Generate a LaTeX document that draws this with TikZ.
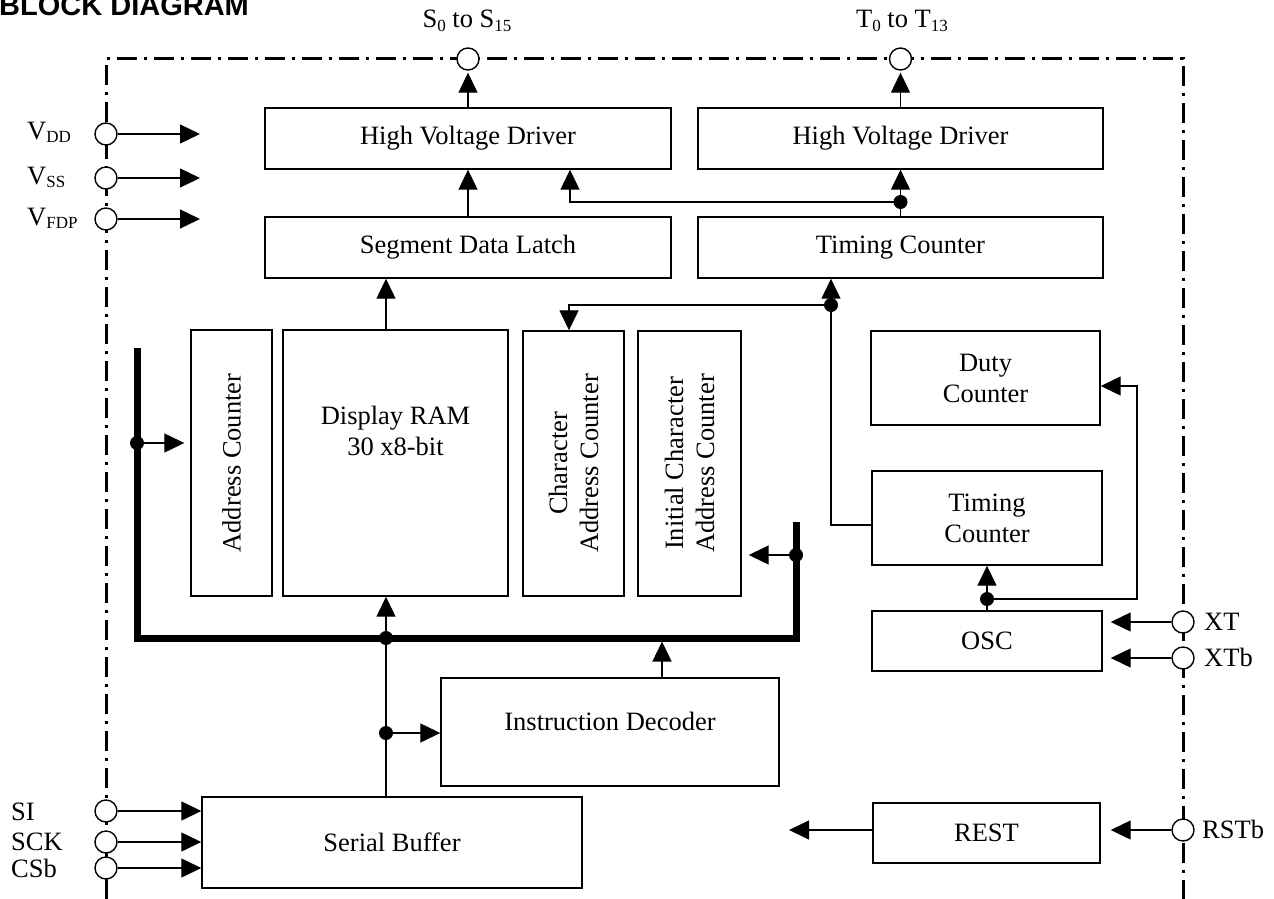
\documentclass[tikz,border=0pt]{standalone}
\usepackage{fontspec}
\setmainfont{Liberation Serif}
\newfontfamily\titlefont{Liberation Sans}
\usetikzlibrary{arrows.meta,calc}
\newcommand\lowsub[1]{\raisebox{-3.5pt}{\fontsize{17}{17}\selectfont #1}}
\begin{document}
\begin{tikzpicture}[x=1pt,y=-1pt,font=\fontsize{26.5}{31}\selectfont,
  box/.style={draw,line width=1.4pt,inner sep=0pt,align=center},
  wire/.style={line width=1.3pt},
  arr/.style={wire,-{Triangle[length=20pt,width=19pt]}},
  bus/.style={line width=7pt},
  dot/.style={circle,fill,inner sep=0pt,minimum size=14pt},
  pinc/.style={circle,draw,fill=white,line width=1.4pt,inner sep=0pt,minimum size=22pt},
  border/.style={line width=3pt,dash pattern=on 20pt off 7pt on 3pt off 7pt},
  lbl/.style={inner sep=0pt}]
\useasboundingbox (0,0) rectangle (1274,899);
\node[anchor=base west,inner sep=0pt,font=\titlefont\bfseries\fontsize{29}{30}\selectfont] (title) at (-1,16) {BLOCK DIAGRAM};
% border
\draw[border] (106,899) -- (106,59) -- (1183,59) -- (1183,899);
% boxes
\node[box,minimum width=406,minimum height=61] (hvdL) at (468,138.5) {High Voltage Driver};
\node[box,minimum width=405,minimum height=61] (hvdR) at (900.5,138.5) {High Voltage Driver};
\node[box,minimum width=406,minimum height=61] (sdl) at (468,247.5) {Segment Data Latch};
\node[box,minimum width=405,minimum height=61] (tcT) at (900.5,247.5) {Timing Counter};
\node[box,minimum width=81,minimum height=266] (addr) at (231.5,463) {};
\node[box,minimum width=225,minimum height=266] (ram) at (395.5,463) {};
\node[box,minimum width=101,minimum height=265] (chr) at (573.5,463.5) {};
\node[box,minimum width=103,minimum height=265] (ini) at (689.5,463.5) {};
\node[box,minimum width=229,minimum height=94] (duty) at (985.5,378) {Duty\\Counter};
\node[box,minimum width=230,minimum height=94] (tcL) at (987,518) {Timing\\Counter};
\node[box,minimum width=230,minimum height=60] (osc) at (987,641) {OSC};
\node[box,minimum width=338,minimum height=108] (idec) at (610,732) {};
\node[box,minimum width=380,minimum height=91] (sbuf) at (392,842.5) {Serial Buffer};
\node[box,minimum width=227,minimum height=60] (rest) at (986.5,833) {REST};
% box texts
\node[lbl,rotate=90] (addrT) at (addr) {Address Counter};
\node[lbl,rotate=90,align=center] (chrT) at (chr) {Character\\Address Counter};
\node[lbl,rotate=90,align=center] (iniT) at (ini) {Initial Character\\Address Counter};
\node[lbl,align=center] (ramT) at (395.5,431) {Display RAM\\30 x8-bit};
\node[lbl] (idecT) at (610,721) {Instruction Decoder};
% pins
\node[pinc] (pS) at (468,59) {};
\node[pinc] (pT) at (900.5,59) {};
\node[pinc] (pVDD) at (106,134) {};
\node[pinc] (pVSS) at (106,178) {};
\node[pinc] (pVFDP) at (106,219) {};
\node[pinc] (pSI) at (106,811) {};
\node[pinc] (pSCK) at (106,842) {};
\node[pinc] (pCSb) at (106,868) {};
\node[pinc] (pXT) at (1183,622) {};
\node[pinc] (pXTb) at (1183,658) {};
\node[pinc] (pRST) at (1183,830) {};
% pin labels
\node[lbl,anchor=base] (lS) at (467,28) {S\lowsub{0} to S\lowsub{15}};
\node[lbl,anchor=base] (lT) at (902,28) {T\lowsub{0} to T\lowsub{13}};
\node[lbl,anchor=base west] (lVDD) at (27,139) {V\lowsub{DD}};
\node[lbl,anchor=base west] (lVSS) at (27,184) {V\lowsub{SS}};
\node[lbl,anchor=base west] (lVFDP) at (27,225) {V\lowsub{FDP}};
\node[lbl,anchor=base west] (lSI) at (11,820) {SI};
\node[lbl,anchor=base west] (lSCK) at (11,850) {SCK};
\node[lbl,anchor=base west] (lCSb) at (11,877) {CSb};
\node[lbl,anchor=base west] (lXT) at (1204,630) {XT};
\node[lbl,anchor=base west] (lXTb) at (1204,666) {XTb};
\node[lbl,anchor=base west] (lRST) at (1202,838) {RSTb};
% coordinates
\coordinate (xr) at (386,0);
\coordinate (dA) at (900.5,202);
\coordinate (kA) at (570,202);
\coordinate (dB) at (831,305);
\coordinate (kB) at (569,305);
\coordinate (dC) at (987,599);
\coordinate (kC) at (1137,599);
\coordinate (oVDD) at (200,134);
\coordinate (oVSS) at (200,178);
\coordinate (oVFDP) at (200,219);
\coordinate (rOut) at (789,830);
\coordinate (bA) at (137,348);
\coordinate (bB) at (137,638);
\coordinate (bC) at (796,638);
\coordinate (bD) at (796,522);
\coordinate (dL) at (137,443);
\coordinate (dR) at (796,555);
\coordinate (dM) at (386,638);
\coordinate (dI) at (386,733);
\coordinate (kI) at (662,641.5);
% connectors
\draw[arr,shorten >=2pt] (hvdL.north) -- (pS.south);
\draw[arr,shorten >=2pt] (hvdR.north) -- (pT.south);
\draw[arr] (sdl.north) -- (hvdL.south);
\draw[arr] (ram.north -| xr) -- (sdl.south -| xr);
\draw[arr] (tcT.north) -- (hvdR.south);
\draw[arr] (dA) -| (kA |- hvdL.south);
\draw[arr] (dB) -- (dB |- tcT.south);
\draw[arr] (dB) -- (kB) -- (kB |- chr.north);
\draw[wire] (dB) |- ([yshift=-7pt]tcL.west);
\draw[arr] (dC) -- (dC |- tcL.south);
\draw[wire] (osc.north) -- (dC);
\draw[arr] (dC) -- (kC) |- ([yshift=-8pt]duty.east);
\draw[arr,shorten >=8pt] (pXT) -- (pXT -| osc.east);
\draw[arr,shorten >=8pt] (pXTb) -- (pXTb -| osc.east);
\draw[arr,shorten >=10pt] (pRST) -- (pRST -| rest.east);
\draw[arr] (rOut -| rest.west) -- (rOut);
\draw[arr] (pVDD) -- (oVDD);
\draw[arr] (pVSS) -- (oVSS);
\draw[arr] (pVFDP) -- (oVFDP);
\draw[arr] (pSI) -- (pSI -| sbuf.west);
\draw[arr] (pSCK) -- (pSCK -| sbuf.west);
\draw[arr] (pCSb) -- (pCSb -| sbuf.west);
% bus
\draw[bus] (bA) -- (bB) -- (bC) -- (bD);
\draw[arr,shorten >=6pt] (dL) -- (dL -| addr.west);
\draw[arr,shorten >=7pt] (dR) -- (dR -| ini.east);
\draw[arr] (sbuf.north -| xr) -- (ram.south -| xr);
\draw[arr] (dI) -- (dI -| idec.west);
\draw[arr] (kI |- idec.north) -- (kI);
% dots
\node[dot] (nA) at (dA) {};
\node[dot] (nB) at (dB) {};
\node[dot] (nC) at (dC) {};
\node[dot] (nL) at (dL) {};
\node[dot] (nR) at (dR) {};
\node[dot] (nM) at (dM) {};
\node[dot] (nI) at (dI) {};
\end{tikzpicture}
\end{document}
